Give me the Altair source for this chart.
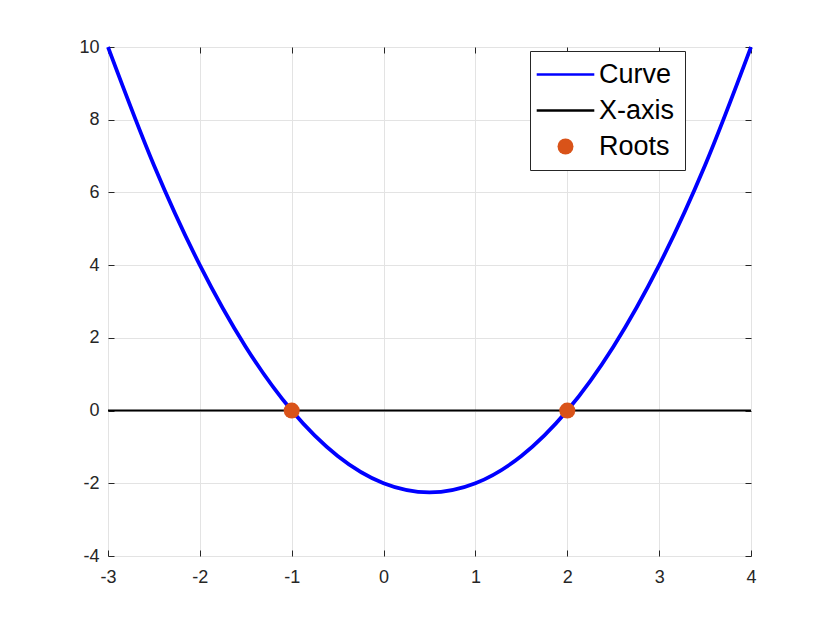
import altair as alt
import pandas as pd

# Values
curve_x = [-3, -2.5, -2, -1.5, -1, -0.5, 0, 0.5, 1, 1.5, 2, 2.5, 3, 3.5, 4]
curve_y = [10, 6.75, 4, 1.75, 0, -1.25, -2, -2.25, -2, -1.25, 0, 1.75, 4, 6.75, 10]
axis_x = [-3, 4]
axis_y = [0, 0]
roots_x = [-1, 2]
roots_y = [0, 0]
series = ["Curve", "X-axis", "Roots"]
colors = ["#0000ff", "#000000", "#d95319"]
x_ticks = [-3, -2, -1, 0, 1, 2, 3, 4]
y_ticks = [-4, -2, 0, 2, 4, 6, 8, 10]

curve_df = pd.DataFrame({"x": curve_x, "y": curve_y, "series": "Curve"})
axis_df = pd.DataFrame({"x": axis_x, "y": axis_y, "series": "X-axis"})
roots_df = pd.DataFrame({"x": roots_x, "y": roots_y, "series": "Roots"})

W, H = 643, 509
FONT = "Liberation Sans"
AX = "#262626"

xs = alt.Scale(domain=[-3, 4], nice=False, zero=False)
ys = alt.Scale(domain=[-4, 10], nice=False, zero=False)

line_path = "M-3.6,0H3.6"
legend = alt.Legend(
    title=None, orient="none", legendX=422, legendY=4,
    fillColor="white", strokeColor=AX, padding=10,
    labelFont=FONT, labelFontSize=27, labelColor="black",
    symbolSize=256, symbolStrokeWidth=2.5, symbolOffset=12,
    labelOffset=20, rowPadding=8, labelLimit=300,
)
stroke_enc = alt.Stroke("series:N", scale=alt.Scale(domain=series, range=["#0000ff", "#000000", "transparent"]), legend=legend)
fill_enc = alt.Fill("series:N", scale=alt.Scale(domain=series, range=colors), legend=legend)
shape_enc = alt.Shape("series:N", scale=alt.Scale(domain=series, range=[line_path, line_path, "circle"]), legend=legend)

main_x_axis = alt.Axis(values=x_ticks, grid=True, gridColor="#e3e3e3", ticks=False, domain=False,
                       labelFont=FONT, labelFontSize=18, labelColor=AX, labelPadding=12, title=None,
                       labelFlush=False, labelExpr="toString(datum.value)")
main_y_axis = alt.Axis(values=y_ticks, grid=True, gridColor="#e3e3e3", ticks=False, domain=False,
                       labelFont=FONT, labelFontSize=18, labelColor=AX, labelPadding=9, title=None,
                       labelFlush=False, labelExpr="toString(datum.value)")

def tick_axis(values, orient):
    return alt.Axis(values=values, orient=orient, offset=-(H if orient in ("top", "bottom") else W),
                    grid=False, labels=False, domain=False, ticks=True, tickSize=6,
                    tickColor=AX, title=None)

curve = alt.Chart(curve_df).mark_line(strokeWidth=3.8, interpolate="monotone").encode(
    x=alt.X("x:Q", scale=xs, axis=main_x_axis),
    y=alt.Y("y:Q", scale=ys, axis=main_y_axis),
    stroke=stroke_enc,
)

xline = alt.Chart(axis_df).mark_line(strokeWidth=2).encode(
    x=alt.X("x:Q", scale=xs, axis=tick_axis(x_ticks, "top")),
    y=alt.Y("y:Q", scale=ys, axis=tick_axis(y_ticks, "right")),
    stroke=stroke_enc,
)

roots = alt.Chart(roots_df).mark_point(filled=True, size=256, opacity=1).encode(
    x=alt.X("x:Q", scale=xs, axis=tick_axis(x_ticks, "bottom")),
    y=alt.Y("y:Q", scale=ys, axis=tick_axis(y_ticks, "left")),
    fill=fill_enc,
    shape=shape_enc,
)

chart = alt.layer(curve, xline, roots).resolve_axis(x="independent", y="independent").properties(
    width=W, height=H,
    autosize=alt.AutoSizeParams(type="none"),
    padding={"left": 100, "top": 39, "right": 71, "bottom": 60},
).configure_view(stroke=AX, strokeWidth=1).configure(background="white")

chart.save("out.html", embed_options={"renderer": "svg", "actions": False})
